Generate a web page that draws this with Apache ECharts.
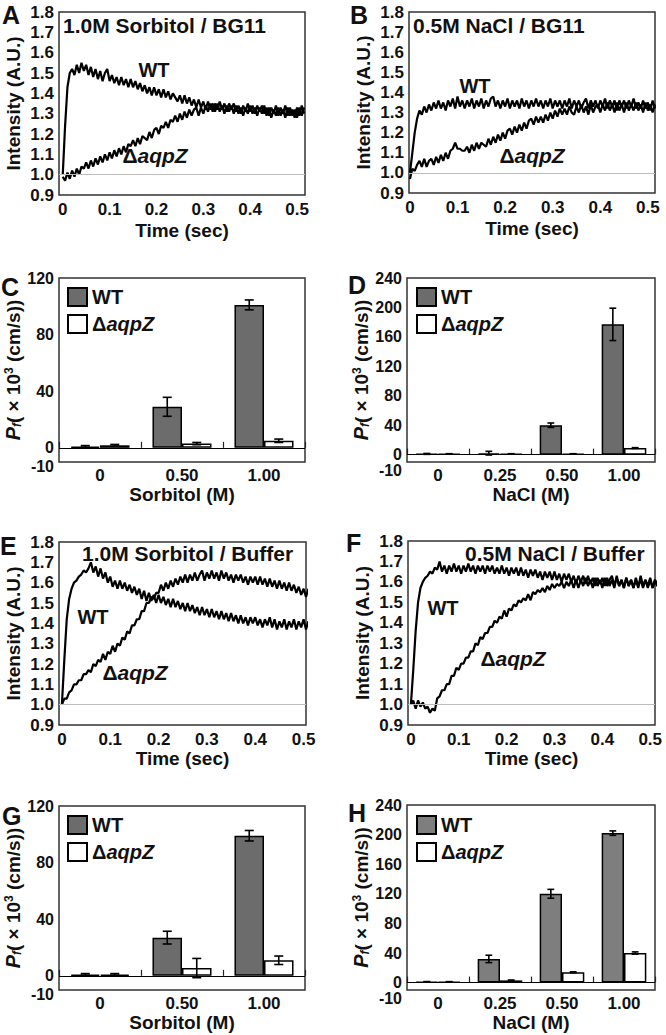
<!DOCTYPE html>
<html><head><meta charset="utf-8">
<script src="https://cdn.jsdelivr.net/npm/echarts@6/dist/echarts.min.js"></script>
<style>html,body{margin:0;padding:0;background:#fff}#c{width:666px;height:1035px}</style>
</head><body><div id="c"></div>
<script>
// ---------- DATA ----------
const timeSec = [0,0.005,0.01,0.015,0.02,0.025,0.03,0.035,0.04,0.045,
0.05,0.055,0.06,0.065,0.07,0.075,0.08,0.085,0.09,0.095,
0.1,0.105,0.11,0.115,0.12,0.125,0.13,0.135,0.14,0.145,
0.15,0.155,0.16,0.165,0.17,0.175,0.18,0.185,0.19,0.195,
0.2,0.205,0.21,0.215,0.22,0.225,0.23,0.235,0.24,0.245,
0.25,0.255,0.26,0.265,0.27,0.275,0.28,0.285,0.29,0.295,
0.3,0.305,0.31,0.315,0.32,0.325,0.33,0.335,0.34,0.345,
0.35,0.355,0.36,0.365,0.37,0.375,0.38,0.385,0.39,0.395,
0.4,0.405,0.41,0.415,0.42,0.425,0.43,0.435,0.44,0.445,
0.45,0.455,0.46,0.465,0.47,0.475,0.48,0.485,0.49,0.495,
0.5,0.505,0.51,0.515];

// Panel A: 1.0M Sorbitol / BG11
const aWT = [1.00,1.24,1.43,1.50,1.52,1.49,1.54,1.50,1.55,1.51,
1.54,1.49,1.53,1.48,1.52,1.47,1.51,1.46,1.50,1.52,
1.46,1.49,1.45,1.48,1.44,1.48,1.44,1.47,1.43,1.47,
1.43,1.46,1.42,1.45,1.41,1.44,1.40,1.43,1.39,1.43,
1.39,1.42,1.38,1.42,1.38,1.41,1.37,1.40,1.38,1.36,
1.39,1.35,1.39,1.35,1.38,1.34,1.37,1.33,1.37,1.33,
1.36,1.32,1.36,1.32,1.35,1.31,1.35,1.31,1.34,1.30,
1.34,1.31,1.34,1.30,1.34,1.30,1.33,1.29,1.33,1.30,
1.34,1.30,1.33,1.29,1.33,1.30,1.34,1.29,1.33,1.28,
1.32,1.29,1.33,1.29,1.32,1.28,1.33,1.29,1.32,1.28,
1.33,1.29,1.34,1.30];
const aDel = [0.99,0.97,1.01,0.98,1.02,0.99,1.03,1.00,1.04,1.03,
1.06,1.03,1.07,1.04,1.08,1.05,1.09,1.06,1.10,1.07,
1.11,1.08,1.12,1.09,1.13,1.10,1.14,1.11,1.15,1.14,
1.17,1.14,1.18,1.15,1.19,1.18,1.17,1.21,1.18,1.22,
1.23,1.20,1.24,1.23,1.26,1.23,1.27,1.26,1.29,1.26,
1.30,1.27,1.31,1.28,1.32,1.29,1.32,1.33,1.29,1.33,
1.30,1.34,1.31,1.35,1.31,1.35,1.32,1.36,1.32,1.35,
1.31,1.35,1.32,1.35,1.31,1.34,1.30,1.34,1.31,1.35,
1.31,1.34,1.30,1.34,1.31,1.34,1.30,1.33,1.29,1.33,
1.30,1.34,1.29,1.33,1.30,1.34,1.29,1.33,1.29,1.32,
1.28,1.33,1.29,1.33];
// Panel B: 0.5M NaCl / BG11
const bWT = [1.00,1.10,1.20,1.27,1.31,1.29,1.33,1.30,1.34,1.31,
1.35,1.32,1.36,1.32,1.35,1.31,1.36,1.33,1.37,1.32,
1.38,1.33,1.36,1.32,1.36,1.33,1.37,1.32,1.36,1.33,
1.37,1.32,1.36,1.33,1.37,1.38,1.33,1.36,1.32,1.36,
1.33,1.37,1.32,1.36,1.33,1.36,1.32,1.37,1.33,1.36,
1.32,1.36,1.33,1.37,1.33,1.36,1.32,1.36,1.33,1.37,
1.32,1.36,1.33,1.36,1.32,1.36,1.33,1.37,1.32,1.36,
1.33,1.36,1.32,1.35,1.37,1.32,1.36,1.33,1.36,1.32,
1.36,1.33,1.37,1.32,1.36,1.33,1.36,1.31,1.36,1.33,
1.36,1.32,1.36,1.33,1.37,1.32,1.35,1.32,1.36,1.32,
1.35,1.31,1.36,1.32];
const bDel = [0.97,1.02,1.01,1.04,1.06,1.03,1.07,1.03,1.06,1.07,
1.04,1.08,1.05,1.09,1.06,1.10,1.07,1.11,1.12,1.15,
1.12,1.12,1.11,1.11,1.13,1.10,1.14,1.11,1.15,1.12,
1.15,1.14,1.13,1.17,1.14,1.18,1.15,1.19,1.16,1.20,
1.17,1.21,1.22,1.19,1.23,1.20,1.24,1.21,1.25,1.22,
1.26,1.27,1.24,1.28,1.25,1.28,1.25,1.29,1.26,1.30,
1.27,1.31,1.28,1.32,1.29,1.32,1.29,1.33,1.30,1.29,
1.33,1.30,1.34,1.30,1.33,1.29,1.34,1.30,1.33,1.34,
1.30,1.34,1.31,1.35,1.31,1.34,1.30,1.35,1.31,1.34,
1.30,1.35,1.31,1.34,1.31,1.35,1.31,1.34,1.30,1.35,
1.31,1.34,1.30,1.34];
// Panel E: 1.0M Sorbitol / Buffer
const eWT = [1.00,1.22,1.42,1.52,1.57,1.60,1.61,1.63,1.64,1.66,
1.65,1.67,1.70,1.65,1.68,1.63,1.67,1.62,1.65,1.60,
1.63,1.58,1.61,1.57,1.61,1.57,1.60,1.56,1.59,1.55,
1.58,1.54,1.57,1.52,1.56,1.51,1.55,1.51,1.54,1.50,
1.54,1.50,1.53,1.49,1.52,1.48,1.52,1.48,1.51,1.47,
1.50,1.46,1.50,1.46,1.49,1.45,1.48,1.44,1.48,1.44,
1.47,1.43,1.47,1.43,1.46,1.42,1.46,1.42,1.45,1.41,
1.45,1.41,1.44,1.40,1.44,1.40,1.43,1.39,1.43,1.40,
1.43,1.39,1.42,1.38,1.42,1.39,1.43,1.38,1.42,1.37,
1.41,1.38,1.42,1.37,1.41,1.38,1.42,1.37,1.41,1.38,
1.42,1.37,1.41,1.38];
const eDel = [1.00,1.03,1.03,1.06,1.07,1.10,1.10,1.12,1.12,1.15,
1.15,1.17,1.16,1.20,1.19,1.22,1.21,1.25,1.22,1.26,
1.25,1.29,1.26,1.30,1.29,1.33,1.32,1.36,1.35,1.39,
1.39,1.42,1.42,1.46,1.46,1.50,1.50,1.53,1.52,1.55,
1.55,1.59,1.56,1.60,1.57,1.61,1.58,1.62,1.59,1.63,
1.60,1.64,1.60,1.64,1.61,1.65,1.61,1.64,1.66,1.61,
1.65,1.62,1.66,1.62,1.65,1.61,1.66,1.62,1.65,1.61,
1.64,1.60,1.64,1.61,1.64,1.60,1.63,1.59,1.63,1.60,
1.63,1.59,1.63,1.59,1.62,1.58,1.62,1.58,1.61,1.57,
1.61,1.57,1.60,1.56,1.60,1.56,1.59,1.55,1.58,1.54,
1.57,1.53,1.57,1.54];
// Panel F: 0.5M NaCl / Buffer
const fWT = [1.00,1.17,1.36,1.50,1.57,1.60,1.62,1.63,1.65,1.64,
1.67,1.66,1.70,1.65,1.68,1.64,1.68,1.65,1.69,1.65,
1.68,1.64,1.68,1.65,1.69,1.65,1.68,1.64,1.68,1.65,
1.68,1.64,1.68,1.65,1.68,1.64,1.67,1.64,1.68,1.64,
1.67,1.63,1.67,1.64,1.67,1.63,1.67,1.63,1.66,1.62,
1.66,1.63,1.66,1.62,1.65,1.61,1.65,1.62,1.65,1.61,
1.65,1.61,1.64,1.60,1.64,1.61,1.64,1.60,1.63,1.59,
1.63,1.60,1.63,1.59,1.63,1.59,1.62,1.58,1.62,1.59,
1.62,1.58,1.62,1.58,1.61,1.57,1.63,1.58,1.61,1.57,
1.62,1.58,1.61,1.57,1.61,1.57,1.63,1.58,1.61,1.57,
1.61,1.57,1.61,1.58];
const fDel = [1.00,1.02,0.98,1.02,0.99,1.01,0.98,0.99,0.96,0.98,
0.97,1.03,1.04,1.07,1.07,1.10,1.10,1.14,1.14,1.18,
1.17,1.20,1.20,1.23,1.23,1.26,1.26,1.30,1.29,1.33,
1.32,1.35,1.35,1.38,1.38,1.41,1.40,1.43,1.42,1.46,
1.43,1.47,1.46,1.49,1.48,1.51,1.50,1.52,1.51,1.54,
1.51,1.55,1.54,1.56,1.55,1.57,1.55,1.58,1.56,1.59,
1.57,1.59,1.58,1.60,1.57,1.60,1.58,1.61,1.57,1.61,
1.57,1.61,1.58,1.62,1.58,1.61,1.57,1.62,1.58,1.61,
1.57,1.62,1.58,1.61,1.63,1.58,1.62,1.58,1.61,1.57,
1.62,1.58,1.61,1.57,1.62,1.58,1.61,1.57,1.61,1.58,
1.62,1.57,1.61,1.58];

// Bar panels
const sorbitolCats = ['0','0.50','1.00'];
const naclCats = ['0','0.25','0.50','1.00'];
const cWT = [1, 29, 101],   cWTErr = [0.6, 6.7, 3.5];
const cDel = [1.8, 3, 5],   cDelErr = [0.6, 0.8, 1.2];
const dWT = [1, 2, 40, 177], dWTErr = [0.6, 2.5, 3, 22];
const dDel = [1, 1, 1, 9],   dDelErr = [0.3, 0.3, 0.3, 0.5];
const gWT = [1, 27, 99],    gWTErr = [0.6, 4.5, 3.7];
const gDel = [1, 5.5, 11],  gDelErr = [0.6, 6.8, 3];
const hWT = [1, 32, 120, 202], hWTErr = [0.4, 5, 6, 3];
const hDel = [1, 3, 14, 40],   hDelErr = [0.3, 0.5, 0.5, 1.5];

// Tick labels
const timeTicks = [0, 0.1, 0.2, 0.3, 0.4, 0.5];
const intensityTicks = [0.9, 1.0, 1.1, 1.2, 1.3, 1.4, 1.5, 1.6, 1.7, 1.8];
const pfTicksSorbitol = [-10, 0, 40, 80, 120];
const pfTicksNaCl = [-10, 0, 40, 80, 120, 160, 200, 240];

// ---------- BUILD ----------
const FF = '"Liberation Sans", Arial, Helvetica, sans-serif';
const grids = [], xAxes = [], yAxes = [], series = [], legends = [], graphics = [];
const lblStyle = (extra) => Object.assign({fontSize: 17, fontWeight: 'bold', color: '#111', fontFamily: FF, hideOverlap: false}, extra || {});
const nameStyle = {fontSize: 19, fontWeight: 'bold', color: '#111', fontFamily: FF};

function gridBox(b) {
  grids.push({left: b[0], top: b[1], width: b[2], height: b[3], show: true,
    borderColor: '#333', borderWidth: 1.5, backgroundColor: 'transparent', outerBoundsMode: 'none', containLabel: false});
  return grids.length - 1;
}

function timePanel(b, xmin, xmax, wt, del, nameGapX) {
  const g = gridBox(b);
  const xi = xAxes.length, yi = yAxes.length;
  xAxes.push({gridIndex: g, type: 'value', min: xmin, max: xmax,
    axisLine: {show: false}, axisTick: {show: false}, splitLine: {show: false},
    axisLabel: lblStyle({customValues: timeTicks, formatter: v => v === 0 ? '0' : v.toFixed(1), margin: 6}),
    name: 'Time (sec)', nameLocation: 'middle', nameGap: nameGapX, nameTextStyle: nameStyle});
  yAxes.push({gridIndex: g, type: 'value', min: 0.9, max: 1.8,
    axisLine: {show: false}, axisTick: {show: false}, splitLine: {show: false},
    axisLabel: lblStyle({customValues: intensityTicks, formatter: v => v.toFixed(1), margin: 5}),
    name: 'Intensity (A.U.)', nameLocation: 'middle', nameRotate: 90, nameGap: 36, nameTextStyle: nameStyle});
  const mk = (name, arr, withRef) => ({
    type: 'line', name: name, xAxisIndex: xi, yAxisIndex: yi, showSymbol: false, symbol: 'none',
    clip: true, animation: false, silent: true,
    lineStyle: {color: '#000', width: 2.2}, itemStyle: {color: '#000'},
    data: timeSec.map((t, i) => [t, arr[i]]),
    markLine: withRef ? {silent: true, symbol: 'none', animation: false, label: {show: false},
      lineStyle: {color: '#bdbdbd', width: 1, type: 'solid'}, data: [{yAxis: 1.0}]} : undefined,
    z: 3
  });
  series.push(mk('trace WT ' + g, wt, true));
  series.push(mk('trace del ' + g, del, false));
}

function barPanel(b, cats, ymax, ticks, wt, wtErr, del, delErr, xName, nameGapX, legPos, wtColor, bottomAlign, bottomPad) {
  const g = gridBox(b);
  const xi = xAxes.length, yi = yAxes.length;
  const suffix = ' '.repeat(g);
  const wtName = 'WT' + suffix, delName = 'ΔaqpZ' + suffix;
  xAxes.push({gridIndex: g, type: 'category', data: cats,
    axisLine: {show: false}, splitLine: {show: false},
    axisTick: {show: true, inside: true, length: 6, lineStyle: {color: '#222', width: 1.2}},
    axisLabel: lblStyle({margin: 5}),
    name: xName, nameLocation: 'middle', nameGap: nameGapX, nameTextStyle: nameStyle});
  // main value axis: all ticks except the bottom one
  yAxes.push({gridIndex: g, type: 'value', position: 'left', min: -10, max: ymax,
    axisLine: {show: false}, axisTick: {show: false}, splitLine: {show: false},
    axisLabel: lblStyle({customValues: ticks.slice(1), margin: 5, fontSize: 16}),
    name: '{i|P}{s|f}{n|( × 10}{p|3}{n| (cm/s))}', nameLocation: 'middle', nameRotate: 90, nameGap: 26,
    nameTextStyle: Object.assign({}, nameStyle, {rich: {
      i: {fontSize: 20, fontStyle: 'italic', fontWeight: 'bold', fontFamily: FF, color: '#111', lineHeight: 20},
      s: {fontSize: 12, fontStyle: 'italic', fontWeight: 'bold', fontFamily: FF, color: '#111', lineHeight: 10, verticalAlign: 'bottom'},
      n: {fontSize: 19, fontWeight: 'bold', fontFamily: FF, color: '#111', lineHeight: 20},
      p: {fontSize: 12, fontWeight: 'bold', fontFamily: FF, color: '#111', lineHeight: 10, verticalAlign: 'top'}
    }})});
  // companion axis carrying only the bottom tick label (keeps both "0" and "-10" visible)
  yAxes.push({gridIndex: g, type: 'value', position: 'left', offset: 0, min: -10, max: ymax,
    axisLine: {show: false}, axisTick: {show: false}, splitLine: {show: false},
    axisLabel: lblStyle({customValues: ticks.slice(0, 1), margin: 5, fontSize: 16, verticalAlign: bottomAlign,
      formatter: v => '{a|' + v + '}',
      rich: {a: {fontSize: 16, fontWeight: 'bold', fontFamily: FF, color: '#111', padding: [bottomPad, 0, 0, 0]}}})});
  const barBase = {type: 'bar', xAxisIndex: xi, yAxisIndex: yi, barGap: '0%', barCategoryGap: '28%', animation: false, silent: true};
  series.push(Object.assign({}, barBase, {name: wtName, data: wt,
    itemStyle: {color: wtColor, borderColor: '#000', borderWidth: 1.5},
    markLine: {silent: true, symbol: 'none', animation: false, label: {show: false},
      lineStyle: {color: '#000', width: 1.2, type: 'solid'}, data: [{yAxis: 0}]}}));
  series.push(Object.assign({}, barBase, {name: delName, data: del,
    itemStyle: {color: '#fff', borderColor: '#000', borderWidth: 1.5}}));
  const errSeries = (vals, errs, off, nm) => ({
    type: 'custom', name: nm, xAxisIndex: xi, yAxisIndex: yi, silent: true, animation: false, z: 5,
    data: vals.map((v, i) => [i, v - errs[i], v + errs[i]]),
    encode: {x: 0, y: [1, 2]},
    renderItem: function (params, api) {
      const ci = api.value(0);
      const lo = api.coord([ci, api.value(1)]);
      const hi = api.coord([ci, api.value(2)]);
      const cw = api.size([1, 0])[0];
      const x = lo[0] + off * cw;
      const cap = cw * 0.055;
      const st = {stroke: '#000', lineWidth: 1.6};
      return {type: 'group', children: [
        {type: 'line', shape: {x1: x, y1: hi[1], x2: x, y2: lo[1]}, style: st},
        {type: 'line', shape: {x1: x - cap, y1: hi[1], x2: x + cap, y2: hi[1]}, style: st},
        {type: 'line', shape: {x1: x - cap, y1: lo[1], x2: x + cap, y2: lo[1]}, style: st}
      ]};
    }
  });
  series.push(errSeries(wt, wtErr, -0.18, 'err WT ' + g));
  series.push(errSeries(del, delErr, 0.18, 'err del ' + g));
  legends.push({left: legPos[0], top: legPos[1], orient: 'vertical', icon: 'rect', itemWidth: 19, itemHeight: 18,
    itemGap: 7, padding: 0, selectedMode: false, data: [wtName, delName],
    formatter: n => n.trim() === 'WT' ? '{b|WT}' : '{b|Δ}{i|aqpZ}',
    textStyle: {fontSize: 20, fontWeight: 'bold', color: '#111', fontFamily: FF,
      rich: {b: {fontSize: 20, fontWeight: 'bold', fontFamily: FF, color: '#111'},
             i: {fontSize: 20, fontWeight: 'bold', fontStyle: 'italic', fontFamily: FF, color: '#111'}}}});
}

function txt(x, y, text, size, align, rich) {
  const st = {text: text, fontSize: size, fontWeight: 'bold', fontFamily: FF, fill: '#111', align: align || 'left', verticalAlign: 'middle'};
  if (rich) st.rich = rich;
  graphics.push({type: 'text', x: x, y: y, silent: true, style: st, z: 10});
}
const delRich = {d: {fontSize: 21, fontWeight: 'bold', fontFamily: FF, fill: '#111'},
                 i: {fontSize: 21, fontWeight: 'bold', fontStyle: 'italic', fontFamily: FF, fill: '#111'}};

// Panels
timePanel([59, 12, 246, 183], -0.008, 0.517, aWT, aDel, 26);
timePanel([409, 12, 246, 181], -0.002, 0.515, bWT, bDel, 26);
barPanel([59, 278, 246, 184], sorbitolCats, 120, pfTicksSorbitol, cWT, cWTErr, cDel, cDelErr, 'Sorbitol (M)', 23, [67, 287], '#6c6c6c', 'middle', 9);
barPanel([407, 278, 248, 184], naclCats, 240, pfTicksNaCl, dWT, dWTErr, dDel, dDelErr, 'NaCl (M)', 23, [416, 287], '#6c6c6c', 'top', 0);
timePanel([59, 542, 247, 183], -0.006, 0.505, eWT, eDel, 22);
timePanel([408, 541, 247, 184], -0.006, 0.51, fWT, fDel, 22);
barPanel([59, 806, 246, 184], sorbitolCats, 120, pfTicksSorbitol, gWT, gWTErr, gDel, gDelErr, 'Sorbitol (M)', 22, [67, 815], '#6c6c6c', 'middle', 9);
barPanel([407, 805, 248, 185], naclCats, 240, pfTicksNaCl, hWT, hWTErr, hDel, hDelErr, 'NaCl (M)', 18, [416, 815], '#7e7e7e', 'top', 0);

// Panel letters
[['A', 2, 15], ['B', 350, 15], ['C', 1, 287], ['D', 348, 285], ['E', 0, 546], ['F', 346, 543], ['G', 2, 816], ['H', 348, 813]]
  .forEach(p => txt(p[1], p[2], p[0], 25, 'left'));
// In-plot titles and curve labels
txt(63, 25, '1.0M Sorbitol / BG11', 21, 'left');
txt(154, 70, 'WT', 20, 'center');
txt(155, 155, '{d|Δ}{i|aqpZ}', 21, 'center', delRich);
txt(413, 25, '0.5M NaCl / BG11', 21, 'left');
txt(475, 86, 'WT', 20, 'center');
txt(532, 155, '{d|Δ}{i|aqpZ}', 21, 'center', delRich);
txt(82, 553, '1.0M Sorbitol / Buffer', 21, 'left');
txt(93, 617, 'WT', 20, 'center');
txt(135, 672, '{d|Δ}{i|aqpZ}', 21, 'center', delRich);
txt(465, 553, '0.5M NaCl / Buffer', 21, 'left');
txt(443, 608, 'WT', 20, 'center');
txt(513, 658, '{d|Δ}{i|aqpZ}', 21, 'center', delRich);

const chart = echarts.init(document.getElementById('c'), null, {renderer: 'svg', width: 666, height: 1035});
chart.setOption({
  animation: false,
  backgroundColor: '#fff',
  textStyle: {fontFamily: FF},
  grid: grids, xAxis: xAxes, yAxis: yAxes, series: series, legend: legends, graphic: graphics
});
</script>
</body></html>
